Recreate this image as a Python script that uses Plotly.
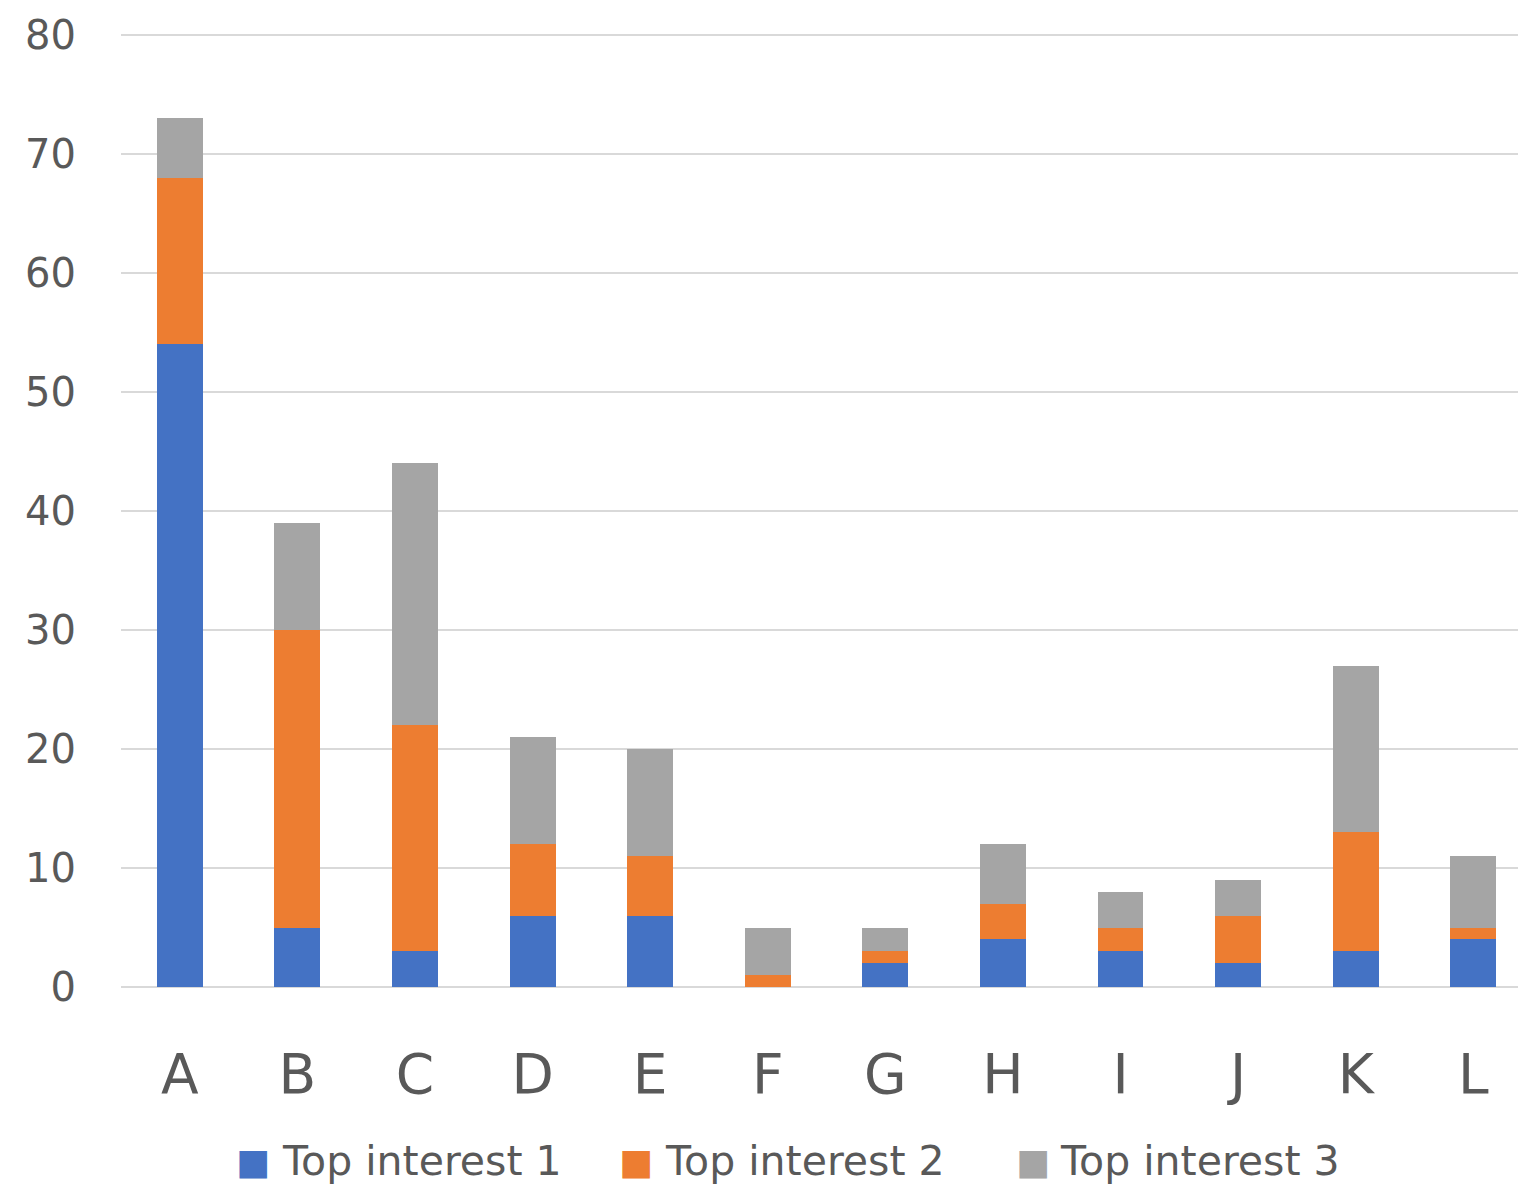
import plotly.graph_objects as go

# Chart data
categories = ["A", "B", "C", "D", "E", "F", "G", "H", "I", "J", "K", "L"]
top_interest_1 = [54, 5, 3, 6, 6, 0, 2, 4, 3, 2, 3, 4]
top_interest_2 = [14, 25, 19, 6, 5, 1, 1, 3, 2, 4, 10, 1]
top_interest_3 = [5, 9, 22, 9, 9, 4, 2, 5, 3, 3, 14, 6]
series_names = ["Top interest 1", "Top interest 2", "Top interest 3"]
y_ticks = [0, 10, 20, 30, 40, 50, 60, 70, 80]

colors = ["#4472C4", "#ED7D31", "#A5A5A5"]
text_color = "#595959"
font_family = "DejaVu Sans"

W, H = 1518, 1189
left, right, top, bottom = 121, 0, 32, 202
y_max = 80.25

fig = go.Figure()
for name, vals, col in zip(series_names, [top_interest_1, top_interest_2, top_interest_3], colors):
    fig.add_trace(go.Bar(
        x=categories, y=vals, name=name,
        marker=dict(color=col, line=dict(width=0)),
        showlegend=False,
    ))

# Legend drawn as annotations so the swatches can be sized like the text
plot_w = W - left - right
plot_h = H - top - bottom
legend_y = -(1161 - (H - bottom)) / plot_h
legend_items = [(234, 280), (617, 663), (1014, 1058)]
for (sq_px, tx_px), name, col in zip(legend_items, series_names, colors):
    fig.add_annotation(
        x=(sq_px - left) / plot_w, xref="paper", xanchor="left",
        y=legend_y, yref="paper", yanchor="middle",
        text="■", showarrow=False,
        font=dict(family=font_family, size=36, color=col),
    )
    fig.add_annotation(
        x=(tx_px - left) / plot_w, xref="paper", xanchor="left",
        y=legend_y, yref="paper", yanchor="middle",
        text=name, showarrow=False,
        font=dict(family=font_family, size=41, color=text_color),
    )

fig.update_layout(
    width=W, height=H,
    margin=dict(l=left, r=right, t=top, b=bottom, pad=0),
    barmode="stack", bargap=0.61,
    plot_bgcolor="white", paper_bgcolor="white",
    font=dict(family=font_family, color=text_color),
)
fig.update_xaxes(
    range=[-0.5, 11.38],
    showgrid=False, showline=False, zeroline=False, ticks="",
    tickfont=dict(size=55, color=text_color),
    ticklabelstandoff=50,
)
fig.update_yaxes(
    range=[0, y_max], tickvals=y_ticks,
    showgrid=True, gridcolor="#D9D9D9", gridwidth=1.5,
    zeroline=True, zerolinecolor="#D9D9D9", zerolinewidth=1.5,
    showline=False, ticks="",
    tickfont=dict(size=40, color=text_color),
    ticklabelstandoff=44,
)

fig.write_html("out.html")
